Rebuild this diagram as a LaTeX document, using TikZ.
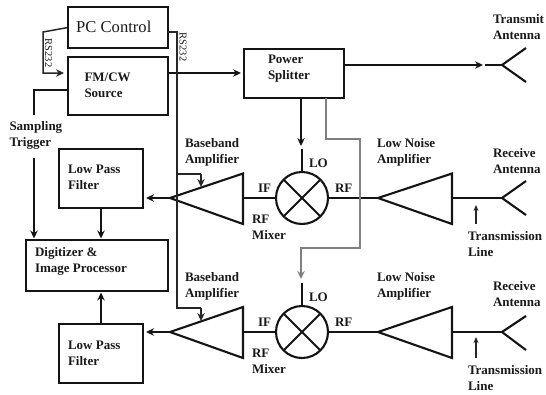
\documentclass[tikz,border=0pt]{standalone}
\usepackage{fontspec}
\setmainfont{Liberation Serif}
\usetikzlibrary{arrows.meta,calc}
\tikzset{
  blockbox/.style={draw=black!92,line width=2.3pt,inner sep=0pt,outer sep=0pt},
  mixerc/.style={draw=black!92,line width=2.1pt,circle,minimum size=52pt,inner sep=0pt,outer sep=0pt},
  lbl/.style={font=\fontsize{13}{16}\selectfont\bfseries,text=black!90,align=left,anchor=west,inner sep=0pt,outer sep=0pt},
  rslabel/.style={font=\fontsize{10.5}{11}\selectfont,text=black!90,rotate=-90,inner sep=0pt},
  wire/.style={draw=black!92,line width=2.1pt},
  thin wire/.style={draw=black!85,line width=1.5pt},
  gray wire/.style={draw=black!50,line width=2.2pt},
  arrowed/.style={-{Stealth[length=8pt,width=7.5pt]}},
  amp/.style={draw=black!92,line width=2.1pt,line join=miter},
}
\begin{document}
\begin{tikzpicture}[x=1pt,y=-1pt]
\useasboundingbox (0,0) rectangle (546,394);
% blocks
\node[blockbox,minimum width=100pt,minimum height=41pt] (pc) at (118,27.5) {};
\node[blockbox,minimum width=100pt,minimum height=58pt] (src) at (118,86) {};
\node[blockbox,minimum width=100pt,minimum height=49pt] (split) at (294,73.5) {};
\node[blockbox,minimum width=84pt,minimum height=59pt] (lpfa) at (101,178.5) {};
\node[blockbox,minimum width=142pt,minimum height=51pt] (dig) at (97,265.5) {};
\node[blockbox,minimum width=84pt,minimum height=59pt] (lpfb) at (101,353.5) {};
% mixers
\node[mixerc] (mixa) at (302,198) {};
\node[mixerc] (mixb) at (302,332) {};
\foreach \m in {mixa,mixb}{
  \draw[amp] (\m.45) -- (\m.225);
  \draw[amp] (\m.135) -- (\m.315);
}
% amplifiers
\coordinate (bbatip) at (170,198);
\coordinate (bbbtip) at (170,332);
\coordinate (lnatipa) at (378,198);
\coordinate (lnatipb) at (378,332);
\draw[amp] (bbatip) -- (243,173.5) -- (243,224) -- cycle;
\draw[amp] (bbbtip) -- (243,307) -- (243,358) -- cycle;
\draw[amp] (lnatipa) -- (452,173.5) -- (452,224) -- cycle;
\draw[amp] (lnatipb) -- (452,307) -- (452,358) -- cycle;
\coordinate (bbain) at (243,198);
\coordinate (bbbin) at (243,332);
\coordinate (lnaouta) at (452,198);
\coordinate (lnaoutb) at (452,332);
% antennas
\coordinate (anttx) at (502,65);
\coordinate (antra) at (502,198);
\coordinate (antrb) at (502,332);
\draw[wire] (526,48) -- (anttx) -- (526,82);
\draw[wire] (526,181) -- (antra) -- (526,215);
\draw[wire] (526,316) -- (antrb) -- (526,350);
\coordinate (txstub) at (485,65);
\draw[wire] (txstub) -- (anttx);
% main signal wires
\draw[wire,arrowed] (168,73) -- (241,73);
\draw[wire,arrowed] (split.east |- anttx) -- (483,65);
\draw[wire,arrowed] (301,98) -- (301,146);
\draw[wire] (302,149) -- (mixa.north);
\draw[wire] (302,283) -- (mixb.north);
\draw[wire] (mixa.east) -- (lnatipa);
\draw[wire] (mixb.east) -- (lnatipb);
\draw[wire] (lnaouta) -- (antra);
\draw[wire] (lnaoutb) -- (antrb);
\draw[wire] (bbain) -- (mixa.west);
\draw[wire] (bbbin) -- (mixb.west);
\draw[wire,arrowed] (bbatip) -- (146,198);
\draw[wire,arrowed] (bbbtip) -- (146,332);
\draw[wire,arrowed] (lpfa.south) -- (101,238.5);
\draw[wire,arrowed] (lpfb.north) -- (101,292.5);
% sampling trigger
\node[lbl] (samp) at (9.5,135.5) {Sampling\\Trigger};
\draw[wire] (src.west |- 0,90) -- (34,90) -- (34,115);
\draw[wire,arrowed] (34,158) -- (34,238.5);
% RS232
\draw[thin wire,arrowed] (pc.west) -- (43,32) -- (43,73) -- (64,73);
\draw[thin wire] (168,32) -- (177,32) -- (177,174) -- (201,174);
\draw[thin wire,arrowed] (201,174) -- (201,187);
\draw[thin wire] (177,174) -- (177,308) -- (201,308);
\draw[thin wire,arrowed] (201,308) -- (201,321);
% gray LO branch
\draw[gray wire,arrowed] (326,98) -- (326,139) -- (360,139) -- (360,248) -- (301,248) -- (301,279);
% transmission line pointers
\draw[thin wire,-{Stealth[length=6pt,width=5pt]}] (476,224) -- (476,205);
\draw[thin wire,-{Stealth[length=6pt,width=5pt]}] (476,358) -- (476,337);
% labels
\node[inner sep=0pt,anchor=west,font=\fontsize{16.6}{18}\selectfont,text=black!90] (pct) at (76,26.5) {PC Control};
\node[rslabel] (rsa) at (48.5,53) {RS232};
\node[rslabel] (rsb) at (183,47) {RS232};
\node[lbl] (srct) at (84.5,85.5) {FM/CW\\Source};
\node[lbl] (splitt) at (268,69) {Power\\Splitter};
\node[lbl] (lpfat) at (68,177.5) {Low Pass\\Filter};
\node[lbl] (lpfbt) at (68,353) {Low Pass\\Filter};
\node[lbl] (digt) at (35,261.5) {Digitizer \&\\Image Processor};
\node[lbl] (bbat) at (185,152) {Baseband\\Amplifier};
\node[lbl] (bbbt) at (185,286) {Baseband\\Amplifier};
\node[lbl] (ifa) at (258,188) {IF};
\node[lbl] (ifb) at (258,322) {IF};
\node[lbl] (rfma) at (252,227.5) {RF\\Mixer};
\node[lbl] (rfmb) at (252,361) {RF\\Mixer};
\node[lbl] (loa) at (309,163) {LO};
\node[lbl] (lob) at (309,297) {LO};
\node[lbl] (rfa) at (335,188) {RF};
\node[lbl] (rfb) at (335,322) {RF};
\node[lbl] (lnata) at (377,152) {Low Noise\\Amplifier};
\node[lbl] (lnatb) at (377,286) {Low Noise\\Amplifier};
\node[lbl] (txt) at (493,27) {Transmit\\Antenna};
\node[lbl] (rxa) at (493,161) {Receive\\Antenna};
\node[lbl] (rxb) at (493,294) {Receive\\Antenna};
\node[lbl] (tla) at (468,244) {Transmission\\Line};
\node[lbl] (tlb) at (468,378) {Transmission\\Line};
\end{tikzpicture}
\end{document}
